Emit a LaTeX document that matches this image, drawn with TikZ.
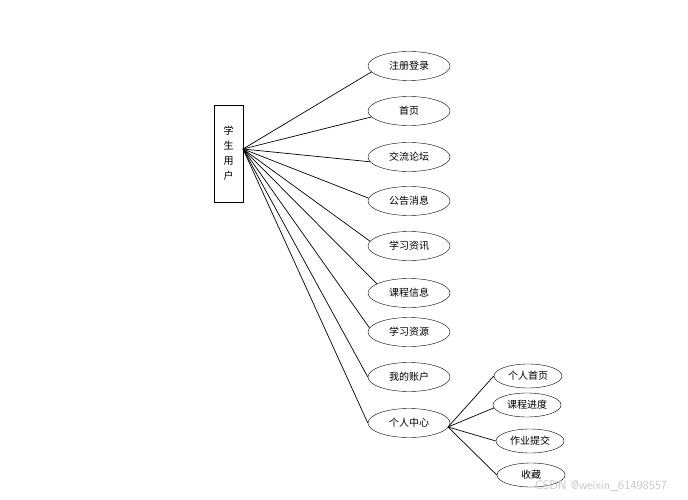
\documentclass[tikz,border=0pt]{standalone}
\usepackage{fontspec}
\setmainfont{Noto Sans CJK SC}
\usetikzlibrary{shapes.geometric}
\begin{document}
\begin{tikzpicture}[x=1pt,y=-1pt,
  every node/.style={font=\fontsize{10}{15}\selectfont},
  lbox/.style={draw,thick,minimum width=29pt,minimum height=97pt,inner sep=0pt,align=center},
  bigell/.style={draw,ellipse,minimum width=82pt,minimum height=29pt,inner sep=0pt},
  smallell/.style={draw,ellipse,minimum width=68pt,minimum height=24pt,inner sep=0pt},
  conn/.style={draw,line width=0.7pt}]
\useasboundingbox (0,0) rectangle (688,500);
\node[lbox] (user) at (228.5,153.5) {学\\生\\用\\户};
\coordinate (hub) at (243,149);
\node[bigell] (e1) at (409,66) {注册登录};
\node[bigell] (e2) at (409,111) {首页};
\node[bigell] (e3) at (409,157) {交流论坛};
\node[bigell] (e4) at (409,201) {公告消息};
\node[bigell] (e5) at (409,246) {学习资讯};
\node[bigell] (e6) at (409,293) {课程信息};
\node[bigell] (e7) at (409,332) {学习资源};
\node[bigell] (e8) at (409,377) {我的账户};
\node[bigell] (e9) at (409,423) {个人中心};
\foreach \i/\a in {1/189,2/189,3/187,4/176,5/173,6/164,7/174,8/180,9/180}
  \draw[conn] (hub) -- (e\i.\a);
\node[smallell] (s1) at (528,376) {个人首页};
\node[smallell] (s2) at (527,405) {课程进度};
\node[smallell] (s3) at (530,441) {作业提交};
\node[smallell] (s4) at (531,475) {收藏};
\coordinate (hub2) at (448,427);
\foreach \i/\a in {1/180,2/185,3/180,4/180}
  \draw[conn] (hub2) -- (s\i.\a);
\node[text=black!22,font=\fontsize{12.5}{14}\selectfont\sffamily] (wm) at (601,486) {CSDN @weixin\_61498557};
\end{tikzpicture}
\end{document}
